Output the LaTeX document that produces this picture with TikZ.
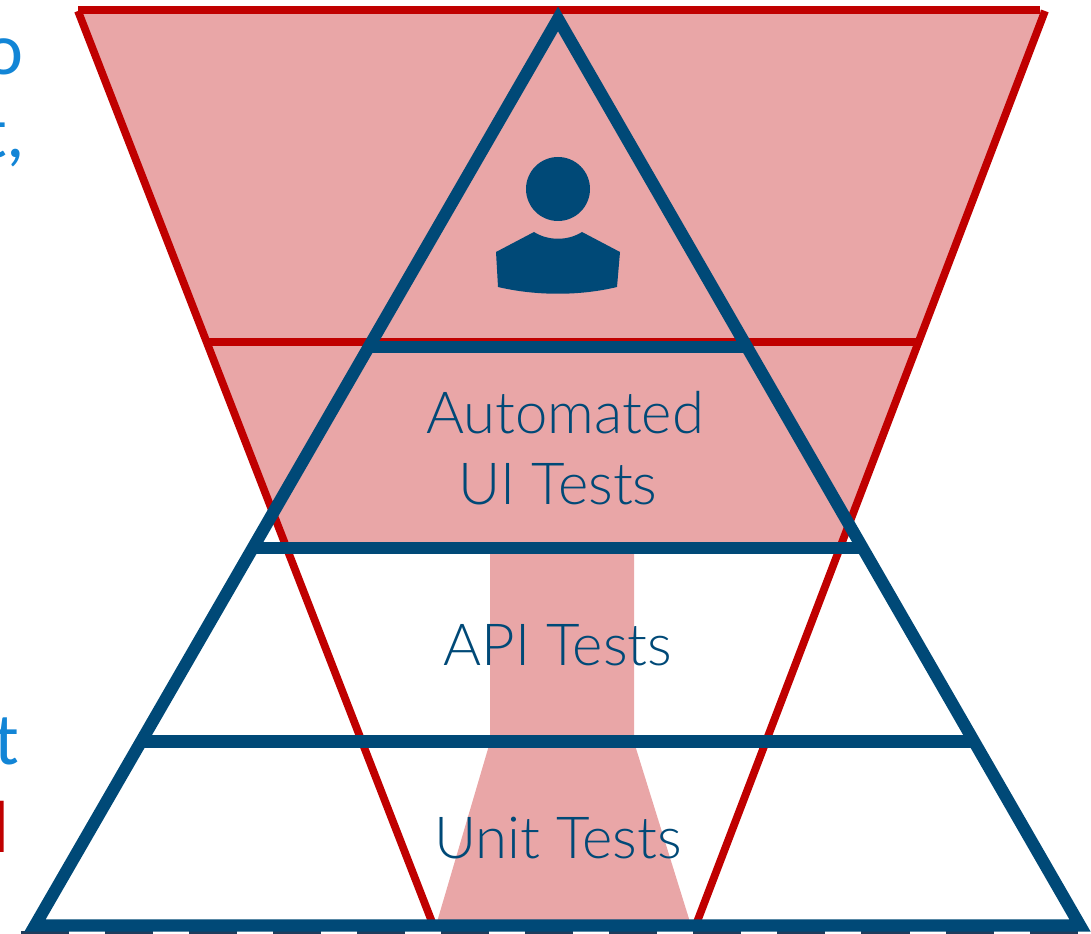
\documentclass[tikz,border=0pt]{standalone}
\usepackage{fontspec}
\setmainfont{Lato Light}
\newfontfamily\notesfont{Carlito}
\usepackage{tikz}
\definecolor{pyramidblue}{HTML}{004977}
\definecolor{funnelred}{HTML}{C00000}
\definecolor{funnelpink}{HTML}{E9A6A7}
\definecolor{notesblue}{HTML}{1285D6}
\definecolor{dashnavy}{HTML}{1F3D5C}
\tikzset{
	redline/.style={draw=funnelred,line width=2.2pt},
	blueline/.style={draw=pyramidblue,line width=3.5pt},
	label/.style={text=pyramidblue,font=\fontsize{16.5}{18}\selectfont,inner sep=0pt},
	notes/.style={text=notesblue,font=\notesfont\fontsize{21}{24}\selectfont,inner sep=0pt,anchor=base east},
}
\begin{document}
\begin{tikzpicture}[x=.01cm,y=-.01cm]
		\useasboundingbox (0,0) rectangle (1091,934);
		\fill[funnelpink] (78,10) -- (1042,10) -- (842,548) -- (634,548) -- (634,742) -- (690,922) -- (437,922) -- (490,742) -- (490,548) -- (285,548) -- cycle;
		\node[notes] (noteo) at (24,75) {o};
		\node[notes] (notecomma) at (26,158) {t,};
		\node[notes] (notet) at (20,764) {t};
		\node[notes,text=funnelred] (notel) at (10,852) {l};
		\draw[redline] (78,10) -- (1040,10);
		\draw[redline] (78,11) -- (432,922);
		\draw[redline] (1045,11) -- (697,922);
		\draw[redline] (204,342) -- (918,342);
		\draw[draw=dashnavy,line width=1pt,dash pattern=on 13.66pt off 10.24pt] (21,932.5) -- (1091,932.5);
		\draw[blueline,line join=miter] (558,19) -- (1080,925.5) -- (35,925.5) -- cycle;
		\draw[blueline] (370,347) -- (748,347);
		\draw[blueline] (255,548) -- (862,548);
		\draw[blueline] (142,741.5) -- (975,741.5);
		\fill[pyramidblue] (558,189) circle (32);
		\fill[pyramidblue] (496,252) -- (534,232) .. controls (548,241) and (568,241) .. (582,232) -- (620,252) -- (617,287) .. controls (580,296) and (536,296) .. (498,287) -- cycle;
		\node[label] (automated) at (565,413) {Automated};
		\node[label] (uitests) at (558,484) {UI Tests};
		\node[label] (apitests) at (558,645) {API Tests};
		\node[label] (unittests) at (558,838) {Unit Tests};
	\end{tikzpicture}
\end{document}
